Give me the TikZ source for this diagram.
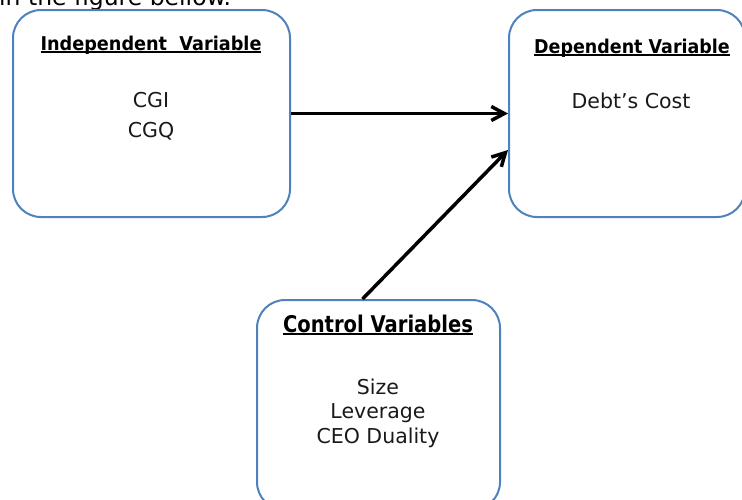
\documentclass[tikz,border=0pt]{standalone}
\usepackage{fontspec}
\usepackage{graphicx}
\setmainfont{DejaVu Sans}
\usetikzlibrary{arrows.meta}
\definecolor{boxblue}{RGB}{79,129,189}
\newcommand{\undl}[1]{\setbox0\hbox{#1}\rlap{\rule[-3pt]{\wd0}{1.8pt}}\box0}

\begin{document}
\begin{tikzpicture}[x=1pt, y=-1pt, >={Straight Barb[length=13pt,width=14pt]},
  varbox/.style={draw=boxblue, line width=2pt, rounded corners=28pt, inner sep=0pt},
  head/.style={anchor=base, inner sep=0pt, font=\fontsize{19}{22}\selectfont\bfseries},
  txt/.style={anchor=base, inner sep=0pt, text=black!90, font=\fontsize{20.5}{24}\selectfont},
  link/.style={->, line width=3.5pt}]
\useasboundingbox (0,0) rectangle (742,499);
\clip (0,0) rectangle (742,499);

\node[anchor=base west, inner sep=0pt, font=\fontsize{23.5}{28}\selectfont] (intro) at (-1,5.5) {in the figure bellow.};

\node[varbox, minimum width=277pt, minimum height=207pt] (indep) at (151.5,113.5) {};
\node[varbox, minimum width=236pt, minimum height=207pt] (dep) at (627,113.5) {};
\node[varbox, minimum width=243pt, minimum height=210pt] (ctrl) at (378.5,405) {};

\node[head] (indeph) at (151,50) {\undl{\scalebox{0.93}[1]{Independent~ Variable}}};
\node[head] (deph) at (632,53) {\undl{\scalebox{0.92}[1]{Dependent Variable}}};
\node[head, font=\fontsize{23}{26}\selectfont\bfseries] (ctrlh) at (378,332) {\undl{\scalebox{0.85}[1]{Control Variables}}};

\foreach \t [count=\i] in {CGI,CGQ}
    \node[txt] (iv\i) at (151,77+30*\i) {\t};
\node[txt] (dv) at (631,108) {Debt’s Cost};
\foreach \t [count=\i] in {Size,Leverage,CEO Duality}
    \node[txt] (cv\i) at (378,369.5+24.5*\i) {\t};

\draw[link] (indep.east) -- (dep.west);
\draw[link] ([xshift=-16pt]ctrl.north) -- ([yshift=-36.5pt]dep.west);
\end{tikzpicture}
\end{document}
